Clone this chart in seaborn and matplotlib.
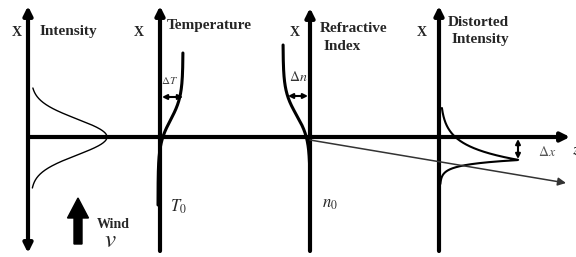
import numpy as np
import pandas as pd
import matplotlib.pyplot as plt
import seaborn as sns

# labels of the four panels of the schematic
panel_titles = ["Intensity", "Temperature", "Refractive\nIndex", "Distorted\nIntensity"]
axis_name = "X"
prop_name = "z"

# profile parameters (pixel units)
beam_height, beam_sigma = 76, 18                  # undisturbed gaussian beam
temp_rise, temp_mid, temp_width = 25, 120, 12     # temperature rise dT
index_drop, index_mid, index_width = 27, 115, 12  # refractive index drop dn
dist_height, dist_shift = 79, 23                  # distorted beam, shifted by dx
dist_tau_up, dist_tau_down = 14, 4.5

sns.set_style("white")
plt.rcParams["font.family"] = ["Liberation Serif", "DejaVu Serif"]
plt.rcParams["mathtext.fontset"] = "stix"

fig = plt.figure(figsize=(5.76, 2.57), dpi=100)
ax = fig.add_axes([0, 0, 1, 1])
ax.set_xlim(0, 576)
ax.set_ylim(257, 0)
ax.axis("off")

ax_x = [28, 160, 310, 439]
z_y = 137
axis_kw = dict(color="black", lw=3, shrinkA=0, shrinkB=0, mutation_scale=13)

## main axes
ax.annotate("", xy=(ax_x[0], 6), xytext=(ax_x[0], 253),
            arrowprops=dict(arrowstyle="<|-|>", **axis_kw))
for xa, top in zip(ax_x[1:], [6, 8, 6]):
    ax.annotate("", xy=(xa, top), xytext=(xa, 251),
                arrowprops=dict(arrowstyle="-|>", **axis_kw))
ax.annotate("", xy=(570, z_y), xytext=(ax_x[0], z_y),
            arrowprops=dict(arrowstyle="-|>", **axis_kw))

## curves
y = np.linspace(88, 188, 200)
beam = pd.DataFrame({"x": ax_x[0] + 3 + beam_height * np.exp(-0.5 * ((y - z_y) / beam_sigma) ** 2), "y": y})
sns.lineplot(data=beam, x="x", y="y", sort=False, estimator=None, color="black", lw=1, ax=ax)

y = np.linspace(53, 205, 200)
temp = pd.DataFrame({"x": ax_x[1] - 2 + temp_rise / (1 + np.exp((y - temp_mid) / temp_width)), "y": y})
sns.lineplot(data=temp, x="x", y="y", sort=False, estimator=None, color="black", lw=2.2, ax=ax)

y = np.linspace(45, 175, 200)
index = pd.DataFrame({"x": ax_x[2] - index_drop / (1 + np.exp((y - index_mid) / index_width)), "y": y})
sns.lineplot(data=index, x="x", y="y", sort=False, estimator=None, color="black", lw=2.2, ax=ax)

peak_y = z_y + dist_shift
y = np.linspace(108, 184, 300)
prof = np.where(y < peak_y,
                np.exp(-(peak_y - y) / dist_tau_up),
                np.exp(-(y - peak_y) / dist_tau_down))
dist = pd.DataFrame({"x": ax_x[3] + 1 + dist_height * prof, "y": y})
sns.lineplot(data=dist, x="x", y="y", sort=False, estimator=None, color="black", lw=1.5, ax=ax)

## deflected ray
ax.annotate("", xy=(566, 183), xytext=(ax_x[2], 140),
            arrowprops=dict(arrowstyle="-|>", color="#333333", lw=1.1,
                            mutation_scale=12, shrinkA=0, shrinkB=0))

## delta arrows
small_kw = dict(arrowstyle="<|-|>", color="black", lw=1.5, mutation_scale=7, shrinkA=0, shrinkB=0)
ax.annotate("", xy=(ax_x[1] + 2, 97), xytext=(ax_x[1] + 23, 97), arrowprops=small_kw)
ax.annotate("", xy=(ax_x[2] - 22, 96), xytext=(ax_x[2] - 2, 96), arrowprops=small_kw)
ax.annotate("", xy=(ax_x[3] + 79, z_y + 2), xytext=(ax_x[3] + 79, peak_y - 1), arrowprops=small_kw)

## wind arrow
ax.arrow(78, 244, 0, -46, width=8, head_width=21, head_length=20,
         length_includes_head=True, fc="black", ec="black")

## texts
bold = dict(fontweight="bold", fontsize=11, va="center")
for xa, dx in zip(ax_x, [-11, -21, -15, -17]):
    ax.text(xa + dx, 32, axis_name, ha="center", fontweight="bold", fontsize=10, va="center")
ax.text(40, 31, panel_titles[0], ha="left", **bold)
ax.text(167, 25, panel_titles[1], ha="left", **bold)
ax.text(320, 28, "Refractive", ha="left", **bold)
ax.text(324, 47, "Index", ha="left", **bold)
ax.text(478, 23, "Distorted", ha="center", **bold)
ax.text(480, 39, "Intensity", ha="center", **bold)
ax.text(97, 225, "Wind", ha="left", fontweight="bold", fontsize=10, va="center")
ax.text(110, 241, "$v$", ha="center", va="center", fontsize=18)

ax.text(170, 81, r"$\Delta T$", ha="center", va="center", fontsize=8, color="#444444")
ax.text(298, 77, r"$\Delta n$", ha="center", va="center", fontsize=10, color="#333333")
ax.text(547, 152, r"$\Delta x$", ha="center", va="center", fontsize=10, color="#555555")
ax.text(178, 207, "$T_0$", ha="center", va="center", fontsize=12)
ax.text(330, 204, "$n_0$", ha="center", va="center", fontsize=12)
ax.text(572, 151, "$" + prop_name + "$", ha="left", va="center", fontsize=11)

plt.savefig("out.png", dpi=100)
plt.close()
